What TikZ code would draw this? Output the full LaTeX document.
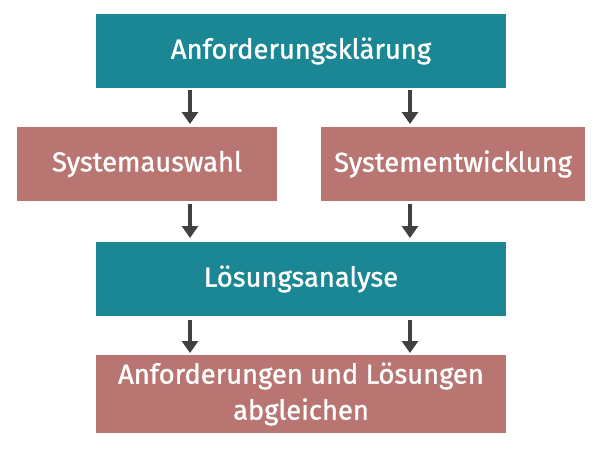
\documentclass[tikz,border=0pt]{standalone}
\usepackage{fontspec}
\setmainfont{Fira Sans}
\newfontfamily\boxfont[FakeBold=1.2]{Fira Sans}
\usetikzlibrary{arrows.meta}
\definecolor{tealbox}{RGB}{27,135,148}
\definecolor{rosebox}{RGB}{184,117,113}
\definecolor{arrowgray}{RGB}{64,64,64}
\tikzset{
  tealstep/.style={fill=tealbox,text=white,minimum height=55.5pt,align=center,font=\boxfont\fontsize{20.5}{27}\selectfont},
  rosestep/.style={fill=rosebox,text=white,minimum height=55.5pt,align=center,font=\boxfont\fontsize{20.5}{27}\selectfont},
  flowarrow/.style={draw=arrowgray,line width=2.4pt,-{Triangle[length=9pt,width=12pt]}}
}
\begin{document}
\begin{tikzpicture}[x=0.75pt,y=0.75pt,yscale=-1,xscale=1]
\useasboundingbox (0,0) rectangle (600,450);

% boxes
\node [tealstep,minimum width=307.5pt] (klaerung) at (301,51) {Anforderungsklärung};
\node [rosestep,minimum width=195pt] (auswahl) at (147,164) {Systemauswahl};
\node [rosestep,minimum width=198pt] (entwicklung) at (453,164) {Systementwicklung};
\node [tealstep,minimum width=307.5pt] (analyse) at (301,279) {Lösungsanalyse};
\node [rosestep,minimum width=307.5pt,minimum height=58.5pt] (abgleich) at (301,394) {Anforderungen und Lösungen\\abgleichen};

% arrows
\coordinate (c1) at (190,90);  \coordinate (c2) at (190,124);
\coordinate (c3) at (410,90);  \coordinate (c4) at (410,124);
\coordinate (c5) at (190,204); \coordinate (c6) at (190,238);
\coordinate (c7) at (410,204); \coordinate (c8) at (410,238);
\coordinate (c9) at (190,320); \coordinate (c10) at (190,353);
\coordinate (c11) at (410,320); \coordinate (c12) at (410,353);
\draw [flowarrow] (c1) -- (c2);
\draw [flowarrow] (c3) -- (c4);
\draw [flowarrow] (c5) -- (c6);
\draw [flowarrow] (c7) -- (c8);
\draw [flowarrow] (c9) -- (c10);
\draw [flowarrow] (c11) -- (c12);

\end{tikzpicture}
\end{document}
